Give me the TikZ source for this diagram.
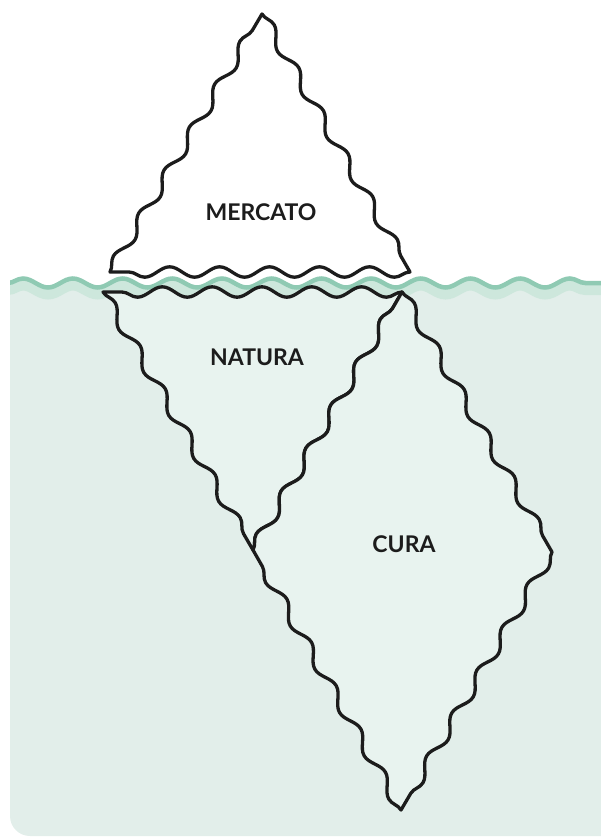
\documentclass[tikz,border=0pt]{standalone}
\usepackage{fontspec}
\setmainfont{Lato}
\usetikzlibrary{decorations.pathmorphing}
\definecolor{seafill}{HTML}{E2EEEA}
\definecolor{seaband}{HTML}{CDE7DC}
\definecolor{sealine}{HTML}{8FCAB3}
\definecolor{bergfill}{HTML}{E8F3EF}
\definecolor{inkline}{HTML}{1C1C1C}
\tikzset{
  wv/.style={decoration={snake, amplitude=5.2pt, segment length=#1}},
  seawv/.style={decoration={snake, amplitude=4.5pt, segment length=#1}},
  berg/.style={draw=inkline, line width=3.3pt, line join=round},
  bergname/.style={font=\bfseries\fontsize{23}{23}\selectfont, text=inkline, inner sep=0pt}
}
\begin{document}
\begin{tikzpicture}[x=1pt, y=-1pt]
\useasboundingbox (0,0) rectangle (600,837);
% sea
\begin{scope}
\clip[rounded corners=20pt] (10,250) rectangle (640,836);
\fill[seafill] (0,286) rectangle (640,840);
\draw[seaband, line width=12pt, decorate, seawv=49.7] (7.6,289) -- (605,289);
\draw[sealine, line width=4.5pt, decorate, seawv=49.7] (7.6,283) -- (605,283);
\end{scope}
% tip above the water
\filldraw[berg, fill=white] (110,272) decorate[wv=49.85]{-- (262,14)}
  decorate[wv=49.5]{-- (410,272)} decorate[wv=49.95]{-- (110,272)} -- cycle;
% under the water
\filldraw[berg, fill=bergfill] (103,292) decorate[wv=49.7]{-- (253,550)}
  decorate[wv=49.6]{-- (402,292)} decorate[wv=49.8]{-- (103,292)} -- cycle;
\filldraw[berg, fill=bergfill] (402,292) decorate[wv=50]{-- (552,552)}
  decorate[wv=49.75]{-- (401,810)} decorate[wv=49.8]{-- (253,550)}
  decorate[wv=49.6]{-- (402,292)} -- cycle;
% names
\node[bergname] (mercato) at (261,212) {MERCATO};
\node[bergname] (natura) at (257,357) {NATURA};
\node[bergname] (cura) at (404,544) {CURA};
\end{tikzpicture}
\end{document}
